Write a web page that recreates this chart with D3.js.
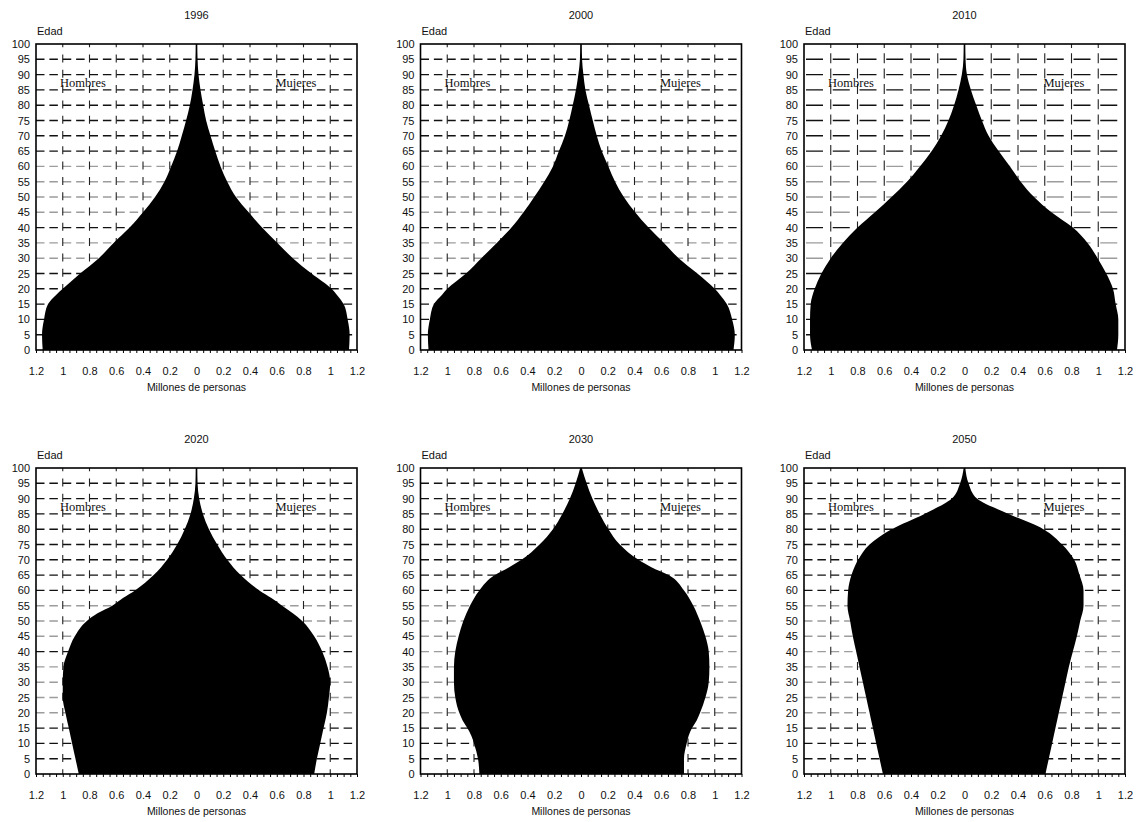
<!DOCTYPE html>
<html>
<head>
<meta charset="utf-8">
<script src="https://cdn.jsdelivr.net/npm/d3@7"></script>
<style>
  body { margin: 0; background: #fff; }
  svg { display: block; }
  text { font-family: "Liberation Sans", Arial, sans-serif; fill: #111; }
  .sex { font-family: "Liberation Serif", "Times New Roman", serif; }
</style>
</head>
<body>
<svg id="chart" width="1142" height="822"></svg>
<script>
// Population pyramids (millions of people by age), one panel per year
const years = ["1996", "2000", "2010", "2020", "2030", "2050"];

const ages1996    = [0, 5, 10, 15, 18, 20, 25, 30, 35, 40, 45, 50, 55, 60, 65, 70, 75, 80, 85, 90, 95, 100];
const hombres1996 = [1.15, 1.155, 1.14, 1.11, 1.05, 1.0, 0.87, 0.73, 0.62, 0.5, 0.4, 0.31, 0.24, 0.19, 0.145, 0.11, 0.078, 0.05, 0.03, 0.015, 0.008, 0.006];
const mujeres1996 = [1.14, 1.145, 1.13, 1.1, 1.05, 1.01, 0.86, 0.72, 0.605, 0.49, 0.39, 0.295, 0.23, 0.18, 0.14, 0.105, 0.072, 0.05, 0.03, 0.015, 0.008, 0.006];

const ages2000    = [0, 5, 10, 15, 18, 20, 25, 30, 35, 40, 45, 50, 55, 60, 65, 70, 75, 80, 85, 90, 95, 100];
const hombres2000 = [1.14, 1.145, 1.13, 1.1, 1.04, 1.0, 0.86, 0.745, 0.63, 0.52, 0.43, 0.35, 0.275, 0.21, 0.165, 0.12, 0.088, 0.062, 0.038, 0.02, 0.008, 0.006];
const mujeres2000 = [1.14, 1.15, 1.13, 1.09, 1.04, 1.0, 0.87, 0.73, 0.62, 0.505, 0.405, 0.32, 0.255, 0.205, 0.155, 0.118, 0.088, 0.06, 0.033, 0.018, 0.008, 0.006];

const ages2010    = [0, 5, 10, 15, 20, 25, 30, 35, 40, 45, 50, 55, 60, 65, 70, 75, 80, 85, 90, 95, 100];
const hombres2010 = [1.14, 1.155, 1.155, 1.15, 1.12, 1.07, 1.0, 0.91, 0.8, 0.67, 0.546, 0.43, 0.333, 0.245, 0.175, 0.12, 0.078, 0.045, 0.02, 0.008, 0.006];
const mujeres2010 = [1.14, 1.15, 1.15, 1.13, 1.11, 1.06, 0.995, 0.92, 0.81, 0.65, 0.52, 0.42, 0.34, 0.255, 0.18, 0.13, 0.088, 0.048, 0.018, 0.008, 0.006];

const ages2020    = [0, 5, 10, 15, 20, 25, 30, 35, 40, 45, 50, 52.5, 55, 57.5, 60, 65, 70, 75, 80, 85, 90, 95, 100];
const hombres2020 = [0.88, 0.905, 0.93, 0.955, 0.98, 1.0, 1.0, 0.995, 0.96, 0.91, 0.82, 0.74, 0.63, 0.55, 0.46, 0.32, 0.22, 0.145, 0.088, 0.045, 0.02, 0.008, 0.006];
const mujeres2020 = [0.88, 0.9, 0.925, 0.95, 0.975, 0.99, 1.0, 0.98, 0.94, 0.88, 0.79, 0.72, 0.64, 0.56, 0.47, 0.33, 0.23, 0.155, 0.093, 0.048, 0.02, 0.008, 0.006];

const ages2030    = [0, 5, 10, 12.5, 15, 17.5, 20, 25, 30, 35, 40, 45, 50, 55, 60, 65, 67.5, 70, 75, 80, 85, 90, 95, 100];
const hombres2030 = [0.76, 0.77, 0.8, 0.82, 0.85, 0.885, 0.91, 0.94, 0.95, 0.95, 0.94, 0.915, 0.88, 0.83, 0.76, 0.645, 0.54, 0.445, 0.31, 0.21, 0.14, 0.083, 0.04, 0.006];
const mujeres2030 = [0.77, 0.77, 0.79, 0.805, 0.83, 0.865, 0.89, 0.93, 0.955, 0.96, 0.955, 0.93, 0.89, 0.84, 0.77, 0.655, 0.53, 0.43, 0.29, 0.205, 0.14, 0.085, 0.042, 0.006];

const ages2050    = [0, 5, 10, 15, 20, 25, 30, 35, 40, 45, 50, 55, 60, 65, 70, 75, 80, 85, 90, 95, 100];
const hombres2050 = [0.61, 0.635, 0.66, 0.685, 0.71, 0.735, 0.76, 0.785, 0.81, 0.835, 0.855, 0.875, 0.87, 0.845, 0.795, 0.71, 0.545, 0.3, 0.095, 0.033, 0.006];
const mujeres2050 = [0.605, 0.63, 0.655, 0.68, 0.705, 0.73, 0.755, 0.78, 0.81, 0.84, 0.865, 0.89, 0.89, 0.86, 0.82, 0.73, 0.59, 0.33, 0.093, 0.03, 0.006];

// Gridline rows printed in light grey (the rest are black)
const greyRows1996 = [30, 35, 45, 50, 55, 60];
const greyRows2000 = [30, 35, 45, 50, 55, 60];
const greyRows2010 = [30, 35, 45, 50, 55, 60];
const greyRows2020 = [20, 25, 30, 35, 45, 50, 55];
const greyRows2030 = [20, 25, 30, 35, 40, 45, 50, 55];
const greyRows2050 = [20, 25, 30, 35, 40, 45, 50, 55];

const xLabelTicks = [-1.2, -1, -0.8, -0.6, -0.4, -0.2, 0, 0.2, 0.4, 0.6, 0.8, 1, 1.2];
const xGridValues = [-1, -0.8, -0.6, -0.4, -0.2, 0.2, 0.4, 0.6, 0.8, 1];
const ageTicks = d3.range(0, 101, 5);

const panels = [
  { year: years[0], ages: ages1996, h: hombres1996, m: mujeres1996, grey: greyRows1996 },
  { year: years[1], ages: ages2000, h: hombres2000, m: mujeres2000, grey: greyRows2000 },
  { year: years[2], ages: ages2010, h: hombres2010, m: mujeres2010, grey: greyRows2010, longDash: true },
  { year: years[3], ages: ages2020, h: hombres2020, m: mujeres2020, grey: greyRows2020 },
  { year: years[4], ages: ages2030, h: hombres2030, m: mujeres2030, grey: greyRows2030 },
  { year: years[5], ages: ages2050, h: hombres2050, m: mujeres2050, grey: greyRows2050 }
];

const svg = d3.select("#chart");
const colLeft = [36, 420.5, 804];
const rowTop = [44, 468];
const W = 321, H = 306;
const fmt = v => { const a = Math.abs(v); return a === 0 ? "0" : d3.format("~g")(+a.toFixed(1)); };

panels.forEach((p, i) => {
  const left = colLeft[i % 3], top = rowTop[Math.floor(i / 3)];
  const x = d3.scaleLinear().domain([-1.2, 1.2]).range([left, left + W]);
  const y = d3.scaleLinear().domain([0, 100]).range([top + H, top]);
  const g = svg.append("g");
  const rowStep = y(0) - y(5);
  const colStep = x(0.2) - x(0);

  // horizontal grid rows
  const hDash = p.longDash ? [17, colStep - 17] : [8.5, colStep / 2 - 8.5];
  g.append("g").selectAll("line")
    .data(ageTicks.filter(a => a > 0 && a < 100))
    .join("line")
    .attr("x1", x(-1.2)).attr("x2", x(1.2))
    .attr("y1", d => y(d)).attr("y2", d => y(d))
    .attr("stroke", d => p.grey.includes(d) ? "#9c9c9c" : "#111")
    .attr("stroke-width", 1.4)
    .attr("stroke-dasharray", hDash.join(","))
    .attr("stroke-dashoffset", p.longDash ? -2 : 0);

  // vertical grid columns
  const vDashLen = p.longDash ? 10 : 8;
  g.append("g").selectAll("line")
    .data(xGridValues)
    .join("line")
    .attr("x1", d => x(d)).attr("x2", d => x(d))
    .attr("y1", y(100)).attr("y2", y(0))
    .attr("stroke", "#222")
    .attr("stroke-width", 1.1)
    .attr("stroke-dasharray", `${vDashLen},${rowStep - vDashLen}`)
    .attr("stroke-dashoffset", vDashLen * 0.6);

  // pyramid silhouette: men to the left, women to the right
  const rows = p.ages.map((a, k) => ({ age: a, h: p.h[k], m: p.m[k] }));
  const area = d3.area()
    .curve(d3.curveMonotoneY)
    .y(d => y(d.age))
    .x0(d => x(-d.h))
    .x1(d => x(d.m));
  g.append("path").datum(rows).attr("d", area).attr("fill", "#000");

  // frame
  g.append("rect")
    .attr("x", x(-1.2)).attr("y", y(100))
    .attr("width", W).attr("height", H)
    .attr("fill", "none").attr("stroke", "#000").attr("stroke-width", 1.6);

  // bottom minor ticks every 0.05
  g.append("g")
    .attr("transform", `translate(0,${y(0)})`)
    .call(d3.axisBottom(x).tickValues(d3.range(-24, 25).map(k => k * 0.05)).tickSize(3).tickFormat(""))
    .call(s => s.select(".domain").remove())
    .call(s => s.selectAll("line").attr("stroke", "#000"));

  // x labels
  g.append("g")
    .attr("transform", `translate(0,${y(0)})`)
    .call(d3.axisBottom(x).tickValues(xLabelTicks).tickSize(0).tickPadding(17).tickFormat(fmt))
    .call(s => s.select(".domain").remove())
    .call(s => s.selectAll("text").attr("font-size", 11).attr("font-family", null));

  // y labels
  g.append("g")
    .attr("transform", `translate(${x(-1.2)},0)`)
    .call(d3.axisLeft(y).tickValues(ageTicks).tickSize(0).tickPadding(6))
    .call(s => s.select(".domain").remove())
    .call(s => s.selectAll("text").attr("font-size", 11).attr("font-family", null));

  // titles and annotations
  g.append("text").attr("x", x(0)).attr("y", top - 25)
    .attr("text-anchor", "middle").attr("font-size", 11).text(p.year);
  g.append("text").attr("x", left + 1).attr("y", top - 9)
    .attr("font-size", 11).text("Edad");
  g.append("text").attr("x", x(0)).attr("y", y(0) + 41)
    .attr("text-anchor", "middle").attr("font-size", 10.5).text("Millones de personas");
  g.append("text").attr("class", "sex").attr("x", x(-1.02)).attr("y", y(86))
    .attr("font-size", 12.5).text("Hombres");
  g.append("text").attr("class", "sex").attr("x", x(0.59)).attr("y", y(86))
    .attr("font-size", 12.5).text("Mujeres");
});
</script>
</body>
</html>
